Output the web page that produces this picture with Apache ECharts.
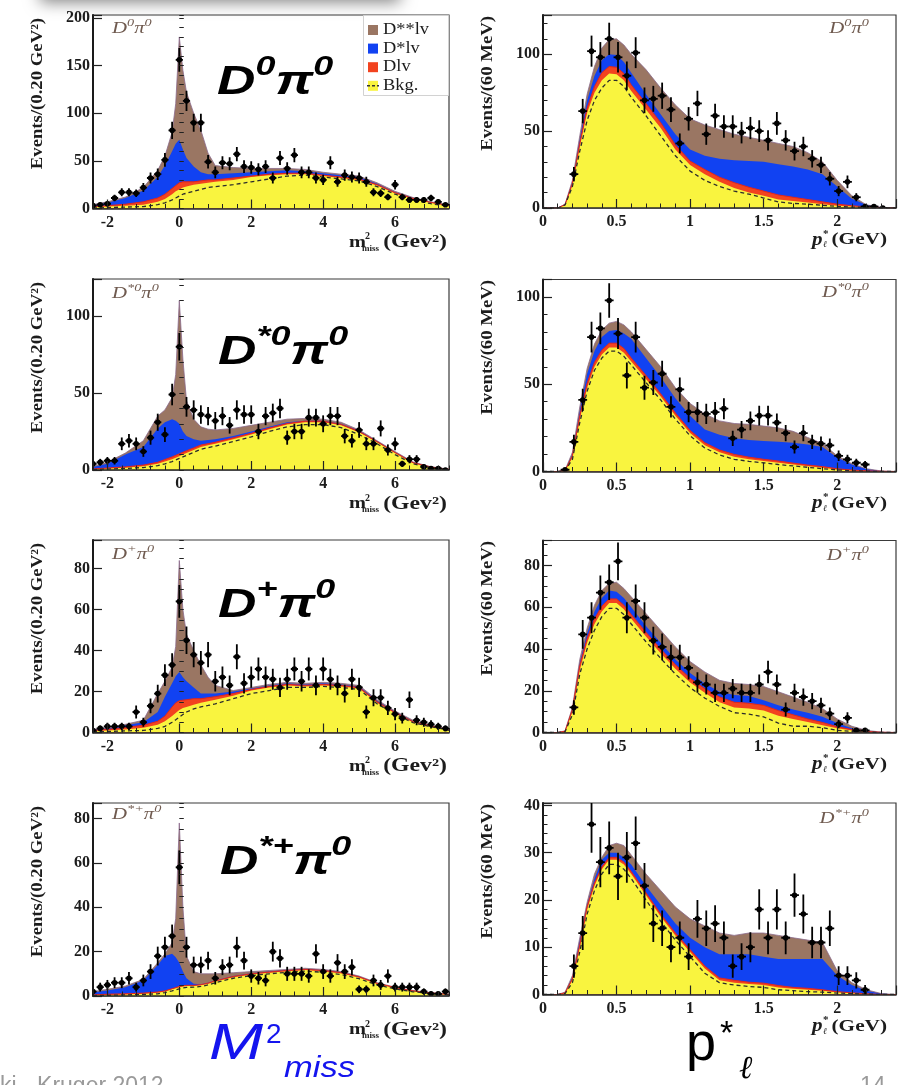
<!DOCTYPE html>
<html>
<head>
<meta charset="utf-8">
<script src="https://cdn.jsdelivr.net/npm/echarts@6/dist/echarts.min.js"></script>
<style>
  html, body { margin: 0; padding: 0; background: #fff; }
  #chart { width: 899px; height: 1085px; }
</style>
</head>
<body>
<div id="chart"></div>
<script>
// ---------------- bin centres and fit-curve abscissae ----------------
const mBins = [-2.4, -2.2, -2.0, -1.8, -1.6, -1.4, -1.2, -1.0, -0.8, -0.6, -0.4, -0.2, 0, 0.2, 0.4, 0.6, 0.8, 1.0, 1.2, 1.4,
  1.6, 1.8, 2.0, 2.2, 2.4, 2.6, 2.8, 3.0, 3.2, 3.4, 3.6, 3.8, 4.0, 4.2, 4.4, 4.6, 4.8, 5.0, 5.2, 5.4,
  5.6, 5.8, 6.0, 6.2, 6.4, 6.6, 6.8, 7.0, 7.2, 7.4];
const pBins = [0.15, 0.21, 0.27, 0.33, 0.39, 0.45, 0.51, 0.57, 0.63, 0.69, 0.75, 0.81, 0.87, 0.93, 0.99, 1.05, 1.11, 1.17, 1.23,
  1.29, 1.35, 1.41, 1.47, 1.53, 1.59, 1.65, 1.71, 1.77, 1.83, 1.89, 1.95, 2.01, 2.07, 2.13, 2.19, 2.25, 2.31];
const mCurveX = [-2.4, -2.0, -1.5, -1.0, -0.6, -0.4, -0.2, -0.1, 0, 0.1, 0.2, 0.4, 0.6, 0.8, 1.0, 1.5, 2.0, 2.5, 3.0, 3.5,
  4.0, 4.5, 5.0, 5.5, 6.0, 6.5, 7.0, 7.5];
const pCurveX = [0, 0.1, 0.15, 0.2, 0.25, 0.3, 0.35, 0.4, 0.45, 0.5, 0.55, 0.6, 0.7, 0.8, 0.9, 1.0, 1.1, 1.2, 1.3, 1.4,
  1.5, 1.6, 1.7, 1.8, 1.9, 2.0, 2.1, 2.2, 2.3, 2.4];

// Fit components are stored as running stack totals:
//   ...Bkg  = background, ...D = Bkg + D l nu, ...Ds = ... + D* l nu, ...Dss = ... + D** l nu (total fit)
// ...Comb is the dashed background curve.

// ---------------- D0 pi0 : m2miss ----------------
const d0pi0M = [3, 4, 5, 11, 17, 17, 16, 22, 32, 36, 51, 82, 156, 113, 90, 90, 49, 38, 48, 47,
  57, 44, 43, 41, 44, 32, 53, 42, 56, 38, 38, 32, 30, 48, 28, 35, 33, 32, 28, 17,
  16, 12, 25, 12, 9, 9, 9, 11, 7, 4];
const d0pi0MBkg = [1.5, 2, 3, 4, 7, 10, 15, 18, 20, 22, 23, 25, 26, 27, 28, 30, 33, 35, 36, 36, 34, 32, 30, 24, 16, 10, 6, 3];
const d0pi0MD = [2, 3, 4.5, 7, 11, 15, 21, 24, 27, 28, 28, 28, 29, 30, 30, 32, 34, 36, 37, 37, 35, 33, 31, 25, 16.5, 10.5, 6.3, 3.2];
const d0pi0MDs = [3.5, 6, 11, 19, 33, 45, 60, 68, 72, 62, 53, 44, 38, 36, 36, 37, 38, 39, 40, 39, 37, 35, 33, 26, 17, 11, 6.6, 3.4];
const d0pi0MDss = [4, 7, 12, 22, 40, 55, 80, 110, 180, 145, 122, 100, 82, 58, 45, 43, 42, 42, 42, 41, 38, 36, 34, 27, 18, 11.5, 7, 3.6];
const d0pi0MComb = [0.5, 1, 1.5, 2, 4, 6, 9, 11, 13, 15, 16, 18, 20, 22, 23, 25, 28, 31, 34, 35, 33, 31, 29, 23, 15, 9, 5, 2.5];

// ---------------- D0 pi0 : lepton momentum ----------------
const d0pi0P = [null, 22, 63, 102, 98, 110, 98, 86, 101, 70, 71, 73, 64, 42, 58, 68, 48, 60, 53, 53,
  49, 52, 50, 44, 55, 44, 37, 40, 32, 28, 19, 11, 17, 7, 1, 1, 0];
const d0pi0PBkg = [0, 0, 2, 15, 40, 62, 75, 83, 87.5, 87, 83, 76, 64, 52, 38, 28, 22, 17, 13, 10, 8, 5.5, 4.5, 3.5, 2.5, 1.5, 1, 0.5, 0.2, 0];
const d0pi0PD = [0, 0, 2.2, 16, 42, 65, 79, 88, 92, 91.5, 87.5, 80, 68, 55.5, 41, 30.5, 25, 20, 16.5, 13.5, 11, 8.5, 7, 5.5, 4, 2.5, 1.5, 0.7, 0.3, 0];
const d0pi0PDs = [0, 0, 2.4, 17, 45, 70, 86, 96, 100, 99.5, 95, 88, 74, 61, 48, 38, 34, 32, 31, 30.5, 30, 28.5, 27, 25, 22, 14, 6, 2, 0.5, 0];
const d0pi0PDss = [0, 0, 2.5, 18, 47, 74, 92, 104, 109.5, 110, 106, 100, 90, 78, 67, 58, 54, 51, 48, 46, 44, 42, 40, 36, 30, 18, 8, 2, 0.5, 0];
const d0pi0PComb = [0, 0, 2, 14, 37, 57, 70, 78, 83, 83, 79, 72, 60, 47, 34, 24, 18, 14, 11, 9, 6.5, 4, 3, 2.5, 1.8, 1, 0.6, 0.3, 0.1, 0];

// ---------------- D*0 pi0 : m2miss ----------------
const ds0pi0M = [4, 5, 6, 6, 17, 19, 17, 12, 21, 31, 23, 49, 80, 41, 39, 36, 35, 32, 35, 29,
  39, 36, 36, 25, 35, 37, 40, 21, 25, 25, 34, 34, 30, 35, 35, 22, 19, 26, 17, 17,
  27, 13, 17, 4, 7, 7, 2, 1, 1, 0];
const ds0pi0MBkg = [0.5, 1, 1.5, 2.5, 4, 5.5, 7, 8, 9, 10, 11, 13, 15, 16, 17, 20, 23, 26.5, 29.5, 31, 31, 29, 24.5, 18, 11, 4.5, 1.8, 0.4];
const ds0pi0MD = [0.7, 1.3, 2, 3.2, 5, 6.8, 8.5, 9.5, 10.5, 11.5, 12.5, 14.3, 16.2, 17.1, 18, 20.9, 23.8, 27.2, 30.2, 31.7, 31.7, 29.6, 25, 18.4, 11.3, 4.7, 1.9, 0.45];
const ds0pi0MDs = [2, 4, 10, 15, 27, 31, 33, 32, 30, 25, 22, 20, 19, 19.5, 20, 22, 25, 28, 31, 32, 32, 30, 25.5, 18.7, 11.5, 5, 2, 0.5];
const ds0pi0MDss = [2.5, 5, 11, 19, 35, 39, 47, 62, 110, 72, 45, 33, 28, 26.5, 26, 27, 29, 31, 33, 33.5, 33, 31, 26, 19, 12, 5.2, 2.1, 0.5];
const ds0pi0MComb = [0.3, 0.6, 1, 1.6, 2.8, 4, 5.5, 6.5, 7.5, 8.5, 9.5, 11.5, 13.5, 14.5, 15.5, 18.5, 21.5, 25, 28, 29.5, 29.5, 27.5, 23, 17, 10, 4, 1.5, 0.3];

// ---------------- D*0 pi0 : lepton momentum ----------------
const ds0pi0P = [1, 17, 41, 77, 82, 98, 79, 55, 77, 48, 51, 56, 37, 47, 34, 34, 33, 34, 36, 19,
  24, 29, 32, 32, 28, 22, 14, 22, 17, 16, 15, 9, 7, 5, 4, null, null];
const ds0pi0PBkg = [0, 0, 0.5, 8, 30, 48, 60, 67, 71, 71, 68, 63, 53, 43, 32, 22, 15, 11, 8.5, 7, 6, 5, 4, 3, 2.2, 1.2, 0.6, 0.3, 0, 0];
const ds0pi0PD = [0, 0, 0.6, 9, 32, 50.5, 62.5, 69.5, 73.5, 73.5, 70.5, 65, 55, 44.5, 33.5, 23.5, 16.5, 12.3, 9.8, 8.2, 7, 6, 4.8, 3.7, 2.8, 1.6, 0.8, 0.4, 0.1, 0];
const ds0pi0PDs = [0, 0, 0.7, 10, 35, 56, 69, 77, 80.5, 81, 79, 76, 65, 54, 42, 32, 24, 21, 19, 18, 17.5, 17, 16.5, 15.5, 14, 8, 4, 1.5, 0.3, 0];
const ds0pi0PDss = [0, 0, 0.8, 11, 37, 59, 73, 81, 85, 86, 84, 80, 70, 60, 48, 39, 33, 29, 27.5, 27, 26, 25, 23, 19.5, 16, 9, 4.5, 1.6, 0.3, 0];
const ds0pi0PComb = [0, 0, 0.4, 7, 28, 46, 58, 65, 69, 69, 66, 61, 51, 41, 30, 20.5, 13.5, 9.5, 7, 5.8, 5, 4, 3.2, 2.4, 1.6, 0.9, 0.4, 0.2, 0, 0];

// ---------------- D+ pi0 : m2miss ----------------
const dppi0M = [1, 2, 3, 3, 3, 3, 10, 5, 13, 19, 28, 33, 64, 45, 38, 34, 38, 25, 27, 23,
  37, 24, 27, 31, 27, 26, 22, 26, 31, 25, 31, 23, 31, 26, 23, 19, 26, 22, 10, 17,
  17, 12, 9, 7, 16, 6, 5, 4, 3, 2];
const dppi0MBkg = [0.7, 1, 1.5, 2.3, 3.8, 5.5, 8, 9.5, 11, 12, 12.5, 13.5, 14.5, 15.2, 16, 18, 20.5, 22, 23, 22.5, 23, 22.5, 21.5, 14.5, 9.4, 5, 3, 1.2];
const dppi0MD = [1, 1.5, 2.5, 3.5, 5.5, 8, 12.5, 14.5, 15.5, 15.8, 16, 16.5, 16.5, 17, 17.5, 19, 21, 22.5, 23.5, 23, 23.5, 23, 22, 15, 9.7, 5.3, 3.2, 1.3];
const dppi0MDs = [1.4, 2, 3.5, 5, 10, 17.5, 24, 27.5, 29.5, 27, 25, 22, 19, 19, 19, 20, 21.5, 23, 24, 23.5, 24, 23.5, 22.5, 15.5, 10, 5.5, 3.3, 1.4];
const dppi0MDss = [1.5, 2.5, 4, 6, 19, 25, 32, 42, 84, 60, 48, 40, 33, 27, 23, 20.5, 22, 23.5, 24.5, 24, 24.5, 24, 23, 16, 10.5, 6, 3.5, 1.5];
const dppi0MComb = [0.3, 0.5, 0.8, 1, 2, 3, 5, 6.2, 7.5, 8.8, 10, 11.5, 12.5, 13.2, 14, 16.5, 19, 20.5, 22, 22, 22.5, 22, 21, 14, 9, 4.8, 2.8, 1.1];

// ---------------- D+ pi0 : lepton momentum ----------------
const dppi0P = [null, 12, 47, 55, 67, 72, 82, 55, 63, 55, 44, 41, 36, 36, 31, 24, 23, 19, 19, 21,
  19, 19, 23, 29, 23, 11, 19, 17, 15, 13, 9, 4, 7, 1, 1, null, null];
const dppi0PBkg = [0, 0, 0.5, 10, 30, 43, 52, 58, 62, 62, 59, 54.5, 46, 38, 30.5, 24, 19, 14.5, 12, 11.5, 10.5, 8, 6.5, 5, 3.5, 2, 1, 0.4, 0, 0];
const dppi0PD = [0, 0, 0.6, 11, 32, 45, 54.5, 60.5, 64, 64, 61, 56.5, 48, 40, 32.5, 26, 21, 17, 14.5, 14, 13, 10.5, 8.5, 6.5, 4.8, 2.8, 1.4, 0.5, 0.1, 0];
const dppi0PDs = [0, 0, 0.7, 11.5, 33.5, 47.5, 58, 64.5, 68, 67.5, 64.5, 60, 51, 43, 35, 28.5, 23.5, 19.5, 18, 17.5, 15.5, 13, 11, 9.5, 7.5, 4.5, 2, 0.6, 0.1, 0];
const dppi0PDss = [0, 0, 0.8, 12, 35, 50, 61, 68, 71.5, 72, 69, 65, 57, 49, 41, 34, 29, 25, 23.5, 23, 22, 19.5, 17, 14.5, 11.5, 6.5, 3, 1, 0.2, 0];
const dppi0PComb = [0, 0, 0.4, 8.5, 28, 40, 49, 55.5, 59.5, 59.5, 56.5, 52, 43.5, 35.5, 28, 21.5, 16.5, 12.5, 9.5, 8.8, 7.5, 4.5, 3, 3, 2.3, 1, 0.5, 0.2, 0, 0];

// ---------------- D*+ pi0 : m2miss ----------------
const dsppi0M = [2, 4, 5, 6, 6, 8, 4, 7, 11, 18, 22, 27, 58, 22, 14, 14, 16, 8, 13, 14,
  22, 16, 9, 8, 7, 20, 17, 10, 10, 10, 9, 19, 11, 9, 15, 11, 13, 3, 3, 7,
  5, 9, 4, 4, 4, 4, 2, 1, 1, 2];
const dsppi0MBkg = [0.3, 0.5, 0.7, 1, 1.5, 2, 3, 3.5, 4, 4.3, 4.5, 4.5, 4.8, 5.5, 6.5, 8.5, 9.7, 10.5, 11.2, 11.7, 11.2, 10.2, 8.3, 5.5, 3.6, 2.2, 1.3, 0.6];
const dsppi0MD = [0.5, 0.8, 1, 1.3, 1.8, 2.3, 3.3, 3.8, 4.3, 4.6, 4.8, 4.8, 5.1, 5.8, 6.8, 8.8, 10, 10.8, 11.5, 12, 11.5, 10.5, 8.6, 5.7, 3.8, 2.3, 1.4, 0.7];
const dsppi0MDs = [1.7, 2.5, 4, 7, 14, 18, 19, 17.5, 15, 11, 8, 5.5, 5.3, 6, 7, 9, 10.2, 11, 11.7, 12.2, 11.7, 10.7, 8.8, 5.8, 3.9, 2.4, 1.45, 0.72];
const dsppi0MDss = [2, 3, 4.5, 7.5, 15, 19, 24, 35, 78, 40, 18, 11, 10, 10, 10, 10.5, 11, 11.5, 12, 12.5, 12, 11, 9, 6, 4, 2.5, 1.5, 0.8];
const dsppi0MComb = [0.2, 0.3, 0.5, 0.7, 1, 1.5, 2.3, 2.8, 3.2, 3.6, 3.9, 4, 4.3, 5, 6, 8, 9.2, 10, 10.7, 11.2, 10.7, 9.7, 7.8, 5, 3.2, 1.9, 1.1, 0.5];

// ---------------- D*+ pi0 : lepton momentum ----------------
const dsppi0P = [null, 6, 13, 36, 28, 31, 25, 29, 32, 23, 15, 14, 10, 12, 8, 16, 14, 15, 12, 6,
  8, 10, 18, 12, 18, 12, 21, 17, 11, 11, 14, 4, 4, 3, 1, null, null];
const dsppi0PBkg = [0, 0, 0.3, 3, 10, 18, 23, 26.5, 28.5, 28.5, 27.5, 25.5, 21, 16.5, 12.5, 9, 5.5, 3, 2.5, 2.2, 2, 1.5, 1.2, 1, 0.8, 0.5, 0.3, 0.1, 0, 0];
const dsppi0PD = [0, 0, 0.35, 3.3, 10.5, 18.6, 23.6, 27, 29, 29, 28, 26, 21.5, 17, 13, 9.5, 6, 3.5, 3, 2.6, 2.4, 1.9, 1.5, 1.3, 1, 0.6, 0.35, 0.15, 0, 0];
const dsppi0PDs = [0, 0, 0.4, 3.6, 11.5, 19, 24.5, 28.5, 30, 30, 29, 27.5, 23, 19, 15, 12, 10, 8.5, 8.5, 8.5, 8, 7.5, 7.5, 7.5, 7.5, 4, 2, 0.8, 0.2, 0];
const dsppi0PDss = [0, 0, 0.5, 4, 12, 19.5, 25.5, 29, 31.5, 32, 31.5, 29.5, 25.5, 22, 18.5, 16, 14.5, 13, 12.5, 13, 13, 12.5, 12, 11.5, 11, 5, 2.5, 1, 0.2, 0];
const dsppi0PComb = [0, 0, 0.2, 2.5, 9, 17, 22, 25.5, 27.5, 27.5, 26.5, 24.5, 20, 15.5, 11.5, 8, 4.5, 2.5, 2, 1.7, 1.5, 1, 0.8, 0.6, 0.5, 0.3, 0.2, 0.1, 0, 0];

// ---------------- styling ----------------
const SERIF = '"Liberation Serif", "Times New Roman", serif';
const SANS = '"Liberation Sans", Arial, sans-serif';
const INK = '#1c1c1c';
const TAG = '#6f5a4f';
const FILL = { dss: '#9a7663', ds: '#1142f2', d: '#f2431f', bkg: '#f9f43f' };
const COMPONENTS = [
  { name: 'D**lv', fill: FILL.dss, edge: '#8a6a8c', edgeWidth: 0.8 },
  { name: 'D*lv', fill: FILL.ds, edge: FILL.ds, edgeWidth: 0 },
  { name: 'Dlv', fill: FILL.d, edge: '#e2261a', edgeWidth: 1 },
  { name: 'Bkg.', fill: FILL.bkg, edge: FILL.bkg, edgeWidth: 0 }
];

// frame geometry per row: [m2miss panel, p* panel]
const frames = [
  [{ top: 15, height: 193.5, max: 203, major: 50, minor: 10 }, { top: 15, height: 193, max: 125.5, major: 50, minor: 10 }],
  [{ top: 279, height: 191, max: 124, major: 50, minor: 10 }, { top: 279.5, height: 192, max: 110, major: 50, minor: 10 }],
  [{ top: 540, height: 192.5, max: 94, major: 20, minor: 5 }, { top: 540.5, height: 192, max: 92, major: 20, minor: 5 }],
  [{ top: 803, height: 193, max: 87, major: 20, minor: 5 }, { top: 803, height: 191.5, max: 40.5, major: 10, minor: 2 }]
];

const panels = [
  { row: 0, col: 0, bins: mBins, counts: d0pi0M, cx: mCurveX, edges: [d0pi0MDss, d0pi0MDs, d0pi0MD, d0pi0MBkg], comb: d0pi0MComb },
  { row: 0, col: 1, bins: pBins, counts: d0pi0P, cx: pCurveX, edges: [d0pi0PDss, d0pi0PDs, d0pi0PD, d0pi0PBkg], comb: d0pi0PComb },
  { row: 1, col: 0, bins: mBins, counts: ds0pi0M, cx: mCurveX, edges: [ds0pi0MDss, ds0pi0MDs, ds0pi0MD, ds0pi0MBkg], comb: ds0pi0MComb },
  { row: 1, col: 1, bins: pBins, counts: ds0pi0P, cx: pCurveX, edges: [ds0pi0PDss, ds0pi0PDs, ds0pi0PD, ds0pi0PBkg], comb: ds0pi0PComb },
  { row: 2, col: 0, bins: mBins, counts: dppi0M, cx: mCurveX, edges: [dppi0MDss, dppi0MDs, dppi0MD, dppi0MBkg], comb: dppi0MComb },
  { row: 2, col: 1, bins: pBins, counts: dppi0P, cx: pCurveX, edges: [dppi0PDss, dppi0PDs, dppi0PD, dppi0PBkg], comb: dppi0PComb },
  { row: 3, col: 0, bins: mBins, counts: dsppi0M, cx: mCurveX, edges: [dsppi0MDss, dsppi0MDs, dsppi0MD, dsppi0MBkg], comb: dsppi0MComb },
  { row: 3, col: 1, bins: pBins, counts: dsppi0P, cx: pCurveX, edges: [dsppi0PDss, dsppi0PDs, dsppi0PD, dsppi0PBkg], comb: dsppi0PComb }
];

// channel names, written as rich-text runs: base / superscript
const channelTags = ['{b|D}{s|0}{b|π}{s|0}', '{b|D}{s|*0}{b|π}{s|0}', '{b|D}{s|+}{b|π}{s|0}', '{b|D}{s|*+}{b|π}{s|0}'];

const onStep = (step) => (v) => (Math.abs(v / step - Math.round(v / step)) < 1e-6 ? String(+v.toFixed(2)) : '');
const tickLabel = { fontFamily: SERIF, fontWeight: 'bold', fontSize: 16, color: INK };

// data point with Poisson error bar and bin-width bar
function renderPoint(params, api) {
  const x = api.value(0), n = api.value(1), half = api.value(2), err = api.value(3);
  const c = api.coord([x, n]);
  const l = api.coord([x - half, n]);
  const r = api.coord([x + half, n]);
  const t = api.coord([x, n + err]);
  const b = api.coord([x, Math.max(0, n - err)]);
  const st = { stroke: '#000', lineWidth: 1.8 };
  return {
    type: 'group',
    children: [
      { type: 'line', shape: { x1: l[0], y1: c[1], x2: r[0], y2: c[1] }, style: st },
      { type: 'line', shape: { x1: c[0], y1: t[1], x2: c[0], y2: b[1] }, style: st },
      { type: 'circle', shape: { cx: c[0], cy: c[1], r: 2.8 }, style: { fill: '#000' } }
    ]
  };
}

const grids = [], xAxes = [], yAxes = [], series = [];

panels.forEach((p, i) => {
  const g = frames[p.row][p.col];
  const isM = p.col === 0;
  grids.push({ left: isM ? 93 : 543, width: isM ? 356 : 357, top: g.top, height: g.height,
    show: true, borderColor: '#3a3a3a', borderWidth: 1.2, backgroundColor: 'transparent' });

  const xMin = isM ? -2.4 : 0, xMax = isM ? 7.5 : 2.4;
  const xMajor = {
    gridIndex: i, type: 'value', min: xMin, max: xMax, position: 'bottom', z: 10,
    axisLine: { onZero: false, lineStyle: { color: '#2a2a2a', width: 1.6 } },
    axisTick: { inside: true, length: 9, lineStyle: { color: '#222', width: 1.2 } },
    axisLabel: Object.assign({ margin: 6, formatter: onStep(isM ? 2 : 0.5) }, tickLabel),
    splitLine: { show: false }
  };
  if (isM) {
    xMajor.splitNumber = 5;
    xMajor.axisTick.customValues = [-2, 0, 2, 4, 6];
    xMajor.axisLabel.customValues = [-2, 0, 2, 4, 6];
  } else {
    xMajor.interval = 0.5;
  }
  xAxes.push(xMajor);
  xAxes.push({
    gridIndex: i, type: 'value', min: xMin, max: xMax, interval: isM ? 0.4 : 0.1, position: 'bottom', z: 10,
    axisLine: { show: false }, axisLabel: { show: false }, splitLine: { show: false },
    axisTick: { inside: true, length: 4.5, lineStyle: { color: '#222', width: 1 } }
  });

  yAxes.push({
    gridIndex: i, type: 'value', min: 0, max: g.max, interval: g.major, position: 'left', z: 10,
    axisLine: { onZero: false, lineStyle: { color: '#1a1a1a', width: 2 } },
    axisTick: { inside: true, length: 9, lineStyle: { color: '#222', width: 1.2 } },
    axisLabel: Object.assign({ margin: 3, formatter: onStep(g.major) }, tickLabel),
    splitLine: { show: false }
  });
  yAxes.push({
    gridIndex: i, type: 'value', min: 0, max: g.max, interval: g.minor, position: 'left', z: 10,
    axisLine: { show: false }, axisLabel: { show: false }, splitLine: { show: false },
    axisTick: { inside: true, length: 4.5, lineStyle: { color: '#222', width: 1 } }
  });

  // stacked fit, drawn outermost first so each inner component covers the one before
  p.edges.forEach((arr, k) => {
    const comp = COMPONENTS[k];
    series.push({
      type: 'line', name: comp.name, xAxisIndex: 2 * i, yAxisIndex: 2 * i, z: 2, silent: true,
      data: p.cx.map((x, j) => [x, arr[j]]),
      symbol: 'none', showSymbol: false,
      lineStyle: { color: comp.edge, width: comp.edgeWidth },
      itemStyle: { color: comp.fill },
      areaStyle: { color: comp.fill, opacity: 1 }
    });
  });
  series.push({
    type: 'line', name: 'Bkg. (dashed)', xAxisIndex: 2 * i, yAxisIndex: 2 * i, z: 3, silent: true,
    data: p.cx.map((x, j) => [x, p.comb[j]]),
    symbol: 'none', showSymbol: false,
    lineStyle: { color: '#2b2b2b', width: 1.3, type: [4, 3] }
  });

  const half = isM ? 0.1 : 0.03;
  const pts = [];
  p.bins.forEach((x, j) => {
    const n = p.counts[j];
    if (n !== null && n !== undefined) pts.push([x, n, half, Math.sqrt(n)]); // Poisson uncertainty
  });
  series.push({
    type: 'custom', name: 'Data', xAxisIndex: 2 * i, yAxisIndex: 2 * i, z: 4, silent: true, clip: true,
    renderItem: renderPoint, data: pts
  });
});

// ---------------- text overlays ----------------
const graphics = [];
const rowTops = [15, 279, 540, 803];
const rowZeros = [[208.5, 208], [470, 471.5], [732.5, 732.5], [996, 994.5]];
const richTag = {
  b: { fontFamily: SERIF, fontStyle: 'italic', fontSize: 16, fill: TAG, verticalAlign: 'bottom', lineHeight: 18 },
  s: { fontFamily: SERIF, fontStyle: 'italic', fontSize: 11, fill: TAG, verticalAlign: 'bottom', lineHeight: 12, padding: [0, 0, 8, 0] }
};
const richBig = {
  b: { fontFamily: SANS, fontStyle: 'italic', fontWeight: 'bold', fontSize: 40, fill: '#000', verticalAlign: 'bottom', lineHeight: 44 },
  s: { fontFamily: SANS, fontStyle: 'italic', fontWeight: 'bold', fontSize: 27, fill: '#000', verticalAlign: 'bottom', lineHeight: 28, padding: [0, 0, 22, 0] }
};
const bigX = [217, 218, 218, 220];
const bigBase = [103, 373, 626, 883];
const tagMid = [[37, 37], [302, 301], [563, 564], [823, 827]];

for (let r = 0; r < 4; r++) {
  const top = rowTops[r];
  // channel tag inside each frame
  graphics.push({ type: 'text', x: 112, y: tagMid[r][0], scaleX: 1.3, silent: true, z: 60,
    style: { text: channelTags[r], rich: richTag, align: 'left', verticalAlign: 'bottom' } });
  graphics.push({ type: 'text', x: 869, y: tagMid[r][1], scaleX: 1.3, silent: true, z: 60,
    style: { text: channelTags[r], rich: richTag, align: 'right', verticalAlign: 'bottom' } });
  // large channel caption
  graphics.push({ type: 'text', x: bigX[r], y: bigBase[r], scaleX: 1.33, silent: true, z: 60,
    style: { text: channelTags[r], rich: richBig, align: 'left', verticalAlign: 'bottom' } });
  // y-axis titles, reading upwards from the top of the frame
  graphics.push({ type: 'text', x: 38, y: top + 3, rotation: Math.PI / 2, scaleX: 1.17, silent: true, z: 60,
    style: { text: 'Events/(0.20 GeV²)', fontFamily: SERIF, fontWeight: 'bold', fontSize: 16, fill: INK, align: 'right', verticalAlign: 'middle' } });
  graphics.push({ type: 'text', x: 488, y: top + 1, rotation: Math.PI / 2, scaleX: 1.17, silent: true, z: 60,
    style: { text: 'Events/(60 MeV)', fontFamily: SERIF, fontWeight: 'bold', fontSize: 16, fill: INK, align: 'right', verticalAlign: 'middle' } });
  // x-axis titles
  const zl = rowZeros[r][0], zr = rowZeros[r][1];
  graphics.push({ type: 'text', x: 349, y: zl + 34, scaleX: 1.2, silent: true, z: 60,
    style: { text: 'm', fontFamily: SERIF, fontWeight: 'bold', fontSize: 17, fill: INK, verticalAlign: 'middle' } });
  graphics.push({ type: 'text', x: 365, y: zl + 28, silent: true, z: 60,
    style: { text: '2', fontFamily: SERIF, fontWeight: 'bold', fontSize: 10, fill: INK, verticalAlign: 'middle' } });
  graphics.push({ type: 'text', x: 362, y: zl + 40, silent: true, z: 60,
    style: { text: 'miss', fontFamily: SERIF, fontWeight: 'bold', fontSize: 9, fill: INK, verticalAlign: 'middle' } });
  graphics.push({ type: 'text', x: 447, y: zl + 34, scaleX: 1.32, silent: true, z: 60,
    style: { text: '(Gev²)', fontFamily: SERIF, fontWeight: 'bold', fontSize: 18, fill: INK, align: 'right', verticalAlign: 'middle' } });
  graphics.push({ type: 'text', x: 812, y: zr + 32, scaleX: 1.17, silent: true, z: 60,
    style: { text: 'p', fontFamily: SERIF, fontStyle: 'italic', fontWeight: 'bold', fontSize: 18, fill: INK, verticalAlign: 'middle' } });
  graphics.push({ type: 'text', x: 823, y: zr + 26, silent: true, z: 60,
    style: { text: '*', fontFamily: SERIF, fontWeight: 'bold', fontSize: 11, fill: INK, verticalAlign: 'middle' } });
  graphics.push({ type: 'text', x: 823, y: zr + 37, silent: true, z: 60,
    style: { text: 'ℓ', fontFamily: '"DejaVu Serif", serif', fontStyle: 'italic', fontSize: 9, fill: INK, verticalAlign: 'middle' } });
  graphics.push({ type: 'text', x: 887, y: zr + 32, scaleX: 1.25, silent: true, z: 60,
    style: { text: '(GeV)', fontFamily: SERIF, fontWeight: 'bold', fontSize: 17, fill: INK, align: 'right', verticalAlign: 'middle' } });
}

// legend box of the first panel
graphics.push({ type: 'rect', silent: true, z: 50, shape: { x: 363.5, y: 15.5, width: 85, height: 80 },
  style: { fill: '#fff', stroke: '#d2d2d2', lineWidth: 1 } });
COMPONENTS.forEach((c, k) => {
  const cy = 30 + k * 18.6;
  graphics.push({ type: 'rect', silent: true, z: 51, shape: { x: 368, y: cy - 5, width: 10, height: 10 }, style: { fill: c.fill } });
  graphics.push({ type: 'text', silent: true, z: 51, x: 383, y: cy, scaleX: 1.15,
    style: { text: c.name, fontFamily: SERIF, fontSize: 16, fill: INK, verticalAlign: 'middle' } });
});
graphics.push({ type: 'line', silent: true, z: 52, shape: { x1: 367, y1: 30 + 3 * 18.6, x2: 379, y2: 30 + 3 * 18.6 },
  style: { stroke: '#333', lineWidth: 1.5, lineDash: [3, 2] } });

// axis captions under the columns
graphics.push({ type: 'text', silent: true, z: 60, x: 209, y: 1045, scaleX: 1.3,
  style: { text: 'M', fontFamily: SANS, fontStyle: 'italic', fontSize: 50, fill: '#1414ee', verticalAlign: 'middle' } });
graphics.push({ type: 'text', silent: true, z: 60, x: 266, y: 1035,
  style: { text: '2', fontFamily: SANS, fontSize: 28, fill: '#1414ee', verticalAlign: 'middle' } });
graphics.push({ type: 'text', silent: true, z: 60, x: 284, y: 1069, scaleX: 1.15,
  style: { text: 'miss', fontFamily: SANS, fontStyle: 'italic', fontSize: 30, fill: '#1414ee', verticalAlign: 'middle' } });
graphics.push({ type: 'text', silent: true, z: 60, x: 686, y: 1045,
  style: { text: 'p', fontFamily: SANS, fontSize: 54, fill: '#000', verticalAlign: 'middle' } });
graphics.push({ type: 'text', silent: true, z: 60, x: 720, y: 1035,
  style: { text: '*', fontFamily: SANS, fontSize: 34, fill: '#000', verticalAlign: 'middle' } });
graphics.push({ type: 'text', silent: true, z: 60, x: 739, y: 1070,
  style: { text: 'ℓ', fontFamily: '"DejaVu Serif", serif', fontStyle: 'italic', fontSize: 32, fill: '#000', verticalAlign: 'middle' } });

// slide footer
graphics.push({ type: 'text', silent: true, z: 60, x: 0, y: 1075,
  style: { text: 'ki - Kruger 2012', fontFamily: SANS, fontSize: 23, fill: '#9a9a9a', verticalAlign: 'top' } });
graphics.push({ type: 'text', silent: true, z: 60, x: 860, y: 1075,
  style: { text: '14', fontFamily: SANS, fontSize: 23, fill: '#9a9a9a', verticalAlign: 'top' } });

// soft shadow along the top edge of the slide
graphics.push({ type: 'rect', silent: true, z: 0, shape: { x: 40, y: -40, width: 360, height: 40 },
  style: { fill: '#fff', shadowBlur: 16, shadowColor: 'rgba(0,0,0,0.5)', shadowOffsetY: 2 } });

const chart = echarts.init(document.getElementById('chart'), null, { renderer: 'canvas' });
chart.setOption({
  backgroundColor: '#ffffff',
  animation: false,
  grid: grids,
  xAxis: xAxes,
  yAxis: yAxes,
  series: series,
  graphic: graphics
});
</script>
</body>
</html>
